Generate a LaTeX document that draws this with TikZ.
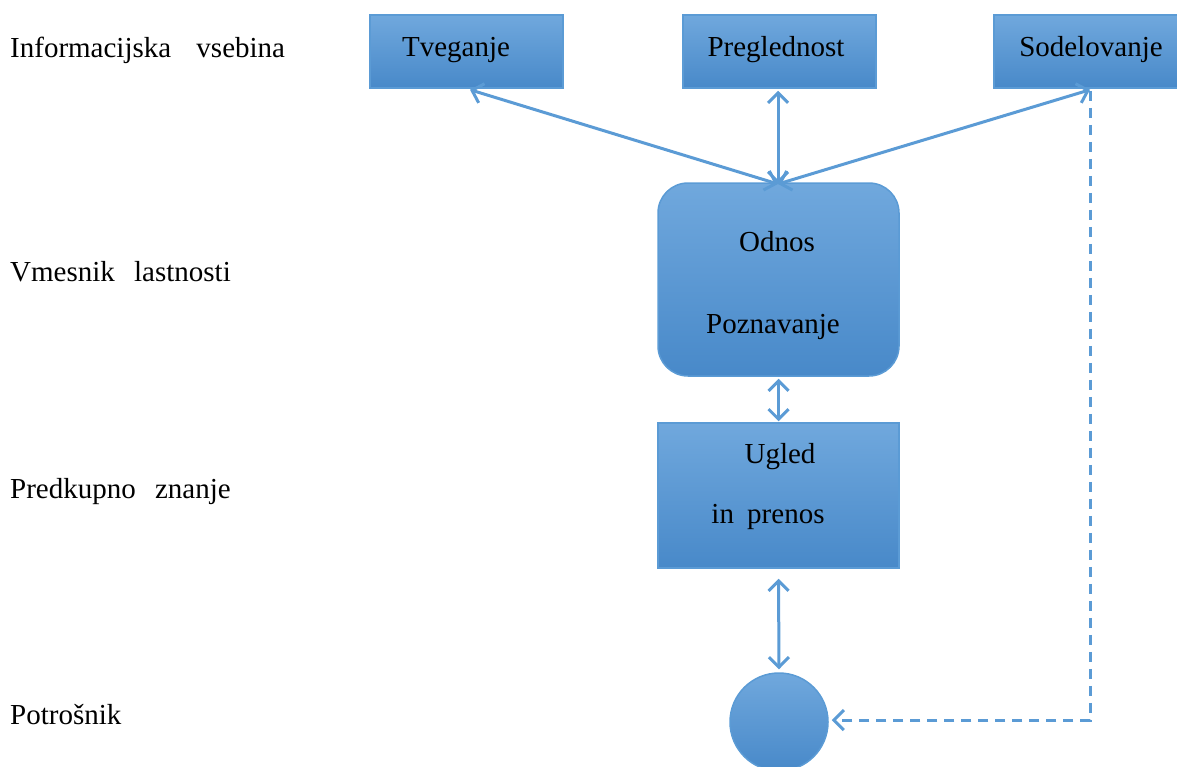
\documentclass[tikz,border=0pt]{standalone}
\usepackage{fontspec}
\setmainfont{Liberation Serif}
\usetikzlibrary{arrows.meta}
\definecolor{boxtop}{RGB}{112,168,221}
\definecolor{boxbot}{RGB}{72,137,201}
\definecolor{edge}{RGB}{91,155,213}
\tikzset{
  boxfill/.style={draw=edge, line width=1.5pt, top color=boxtop, bottom color=boxbot, inner sep=0pt},
  lbl/.style={font=\rmfamily\fontsize{29}{32}\selectfont, inner sep=0pt, text=black},
  conn/.style={draw=edge, line width=3pt, {Straight Barb[length=10pt,width=20pt]}-{Straight Barb[length=10pt,width=20pt]}},
  dconn/.style={draw=edge, line width=3pt, dash pattern=on 10pt off 7pt, -{Straight Barb[length=10pt,width=20pt]}}
}
\begin{document}
\begin{tikzpicture}[x=1pt,y=-1pt]
\useasboundingbox (0,0) rectangle (1177,766);
% boxes
\node[boxfill, minimum width=193pt, minimum height=73pt] (tv) at (466.5,51.5) {};
\node[boxfill, minimum width=193pt, minimum height=73pt] (pr) at (779.5,51.5) {};
\node[boxfill, minimum width=192pt, minimum height=73pt] (so) at (1090,51.5) {};
\node[boxfill, rounded corners=30pt, minimum width=241pt, minimum height=193pt] (od) at (778.5,279.5) {};
\node[boxfill, minimum width=241pt, minimum height=145pt] (ug) at (778.5,495.5) {};
\node[boxfill, circle, minimum size=98pt] (po) at (779,722) {};
% box texts
\node[lbl] (tvt) at (456,50) {Tveganje};
\node[lbl] (prt) at (776,50) {Preglednost};
\node[lbl] (sot) at (1091,50) {Sodelovanje};
\node[lbl] (odt1) at (777,242) {Odnos};
\node[lbl] (odt2) at (773,327) {Poznavanje};
\node[lbl] (ugt1) at (780,457) {Ugled};
\node[lbl] (ugt2) at (768,517) {in\hspace{6pt} prenos};
% left labels
\node[lbl, anchor=west] (l1) at (10,50) {Informacijska\hspace{18pt} vsebina};
\node[lbl, anchor=west] (l2) at (10,272) {Vmesnik\hspace{12pt} lastnosti};
\node[lbl, anchor=west] (l3) at (10,492) {Predkupno\hspace{12pt} znanje};
\node[lbl, anchor=west] (l4) at (10,715) {Potrošnik};
% connectors
\coordinate (odtop) at (778,184);
\draw[conn] ([xshift=3.5pt,yshift=-1pt]tv.south) -- (odtop);
\draw[conn] ([xshift=-1.5pt, yshift=-2pt]pr.south) -- (odtop);
\draw[conn] ([yshift=-1pt]so.south) -- (odtop);
\draw[conn] ([yshift=-2pt]od.south) -- ([yshift=1pt]ug.north);
\draw[conn] ([yshift=-10pt]ug.south) -- ([yshift=3pt]po.north);
\coordinate (bend) at (1090,720);
\draw[dconn] ([yshift=-2pt]so.south) -- (bend) -- ([xshift=3pt]po.east |- bend);
\end{tikzpicture}
\end{document}
